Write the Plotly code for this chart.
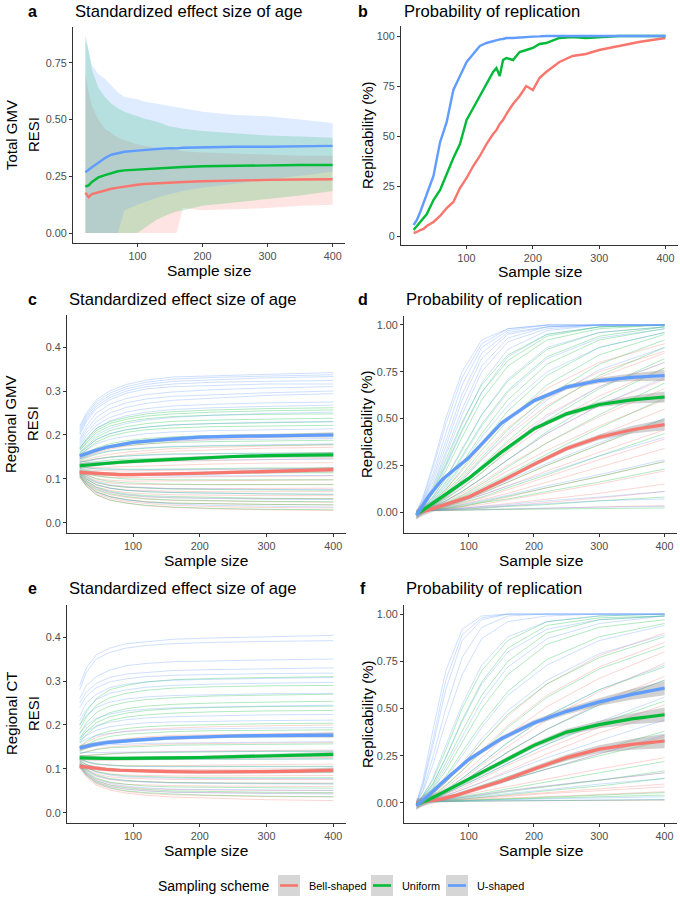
import plotly.graph_objects as go

# ---- colours (ggplot defaults) ----
RED = "#F8766D"
GREEN = "#00BA38"
BLUE = "#619CFF"

# ---- panel a: total GMV, mean RESI with bands ----
XA = [20, 25, 30, 40, 50, 60, 70, 80, 100, 110, 130, 150, 160, 170, 200, 250, 300, 350, 400]
A_BELL = [0.178, 0.158, 0.172, 0.18, 0.188, 0.195, 0.2, 0.205, 0.213, 0.216, 0.22, 0.223, 0.224, 0.225, 0.228, 0.232, 0.234, 0.236, 0.237]
A_UNIF = [0.205, 0.21, 0.225, 0.245, 0.255, 0.265, 0.272, 0.276, 0.28, 0.282, 0.285, 0.288, 0.29, 0.291, 0.294, 0.297, 0.298, 0.3, 0.3]
A_USHP = [0.268, 0.28, 0.29, 0.31, 0.33, 0.345, 0.35, 0.358, 0.363, 0.366, 0.37, 0.374, 0.373, 0.376, 0.378, 0.38, 0.38, 0.383, 0.384]
A_BELL_HI = [0.7, 0.62, 0.56, 0.5, 0.46, 0.44, 0.42, 0.41, 0.39, 0.385, 0.375, 0.37, 0.365, 0.36, 0.355, 0.35, 0.345, 0.34, 0.34]
A_BELL_LO = [0, 0, 0, 0, 0, 0, 0, 0, 0, 0, 0, 0, 0, 0.11, 0.1, 0.105, 0.11, 0.12, 0.125]
A_UNIF_HI = [0.86, 0.8, 0.72, 0.64, 0.6, 0.57, 0.55, 0.535, 0.515, 0.505, 0.49, 0.47, 0.465, 0.46, 0.45, 0.44, 0.43, 0.425, 0.42]
A_UNIF_LO = [0, 0, 0, 0, 0, 0, 0, 0, 0, 0.02, 0.06, 0.085, 0.095, 0.1, 0.12, 0.135, 0.15, 0.165, 0.185]
A_USHP_HI = [0.875, 0.8, 0.74, 0.7, 0.68, 0.65, 0.62, 0.6, 0.59, 0.58, 0.57, 0.56, 0.555, 0.55, 0.535, 0.52, 0.515, 0.5, 0.485]
A_USHP_LO = [0, 0, 0, 0, 0, 0, 0, 0.1, 0.125, 0.135, 0.155, 0.172, 0.18, 0.185, 0.2, 0.218, 0.235, 0.252, 0.27]

# ---- panel b: total GMV replicability (%) ----
XB = [20, 25, 30, 35, 40, 50, 60, 70, 80, 90, 100, 110, 120, 130, 140, 145, 150, 155, 160, 170, 180, 190, 200, 210, 220, 240, 260, 280, 300, 330, 360, 400]
B_BELL = [1.5, 2, 3, 3.5, 5, 7, 10, 14, 17, 24, 29, 35, 40, 46, 51, 53, 56, 58, 61, 66, 70, 75, 73, 79, 82, 87, 90, 91, 93, 95, 97, 99]
B_UNIF = [3, 5, 7, 9, 11, 18, 23, 31, 39, 46, 58, 64, 70, 76, 82, 84, 80, 88, 89, 88, 92, 93, 94, 96, 96.5, 99, 99.5, 99, 99.5, 100, 100, 100]
B_USHP = [5.5, 8, 12, 17, 21, 30, 47, 57, 73, 80, 87, 91, 95, 96.5, 97.5, 98, 98.3, 98.5, 99, 99, 99.3, 99.6, 99.7, 99.8, 100, 100, 100, 100, 100, 100, 100, 100]

# ---- regional panels: thin per-region lines ----
XT = [20, 30, 45, 65, 90, 120, 160, 220, 300, 400]

C_BELL = [
    [0.145, 0.15, 0.16, 0.168, 0.175, 0.18, 0.185, 0.19, 0.195, 0.2],
    [0.14, 0.143, 0.15, 0.156, 0.161, 0.165, 0.169, 0.172, 0.175, 0.178],
    [0.138, 0.14, 0.145, 0.15, 0.155, 0.159, 0.163, 0.166, 0.17, 0.172],
    [0.132, 0.131, 0.132, 0.134, 0.136, 0.138, 0.14, 0.142, 0.145, 0.147],
    [0.13, 0.127, 0.126, 0.127, 0.128, 0.13, 0.132, 0.134, 0.136, 0.137],
    [0.127, 0.122, 0.119, 0.118, 0.118, 0.119, 0.12, 0.122, 0.124, 0.125],
    [0.122, 0.113, 0.107, 0.104, 0.103, 0.103, 0.104, 0.105, 0.106, 0.107],
    [0.12, 0.109, 0.101, 0.097, 0.095, 0.095, 0.095, 0.096, 0.097, 0.098],
    [0.118, 0.106, 0.096, 0.091, 0.088, 0.087, 0.087, 0.087, 0.088, 0.088],
    [0.116, 0.102, 0.091, 0.085, 0.081, 0.079, 0.078, 0.078, 0.078, 0.079],
    [0.114, 0.099, 0.086, 0.079, 0.075, 0.073, 0.072, 0.071, 0.071, 0.071],
    [0.112, 0.096, 0.082, 0.074, 0.069, 0.066, 0.064, 0.063, 0.062, 0.062],
    [0.11, 0.093, 0.078, 0.069, 0.063, 0.059, 0.057, 0.056, 0.055, 0.055],
    [0.108, 0.09, 0.074, 0.064, 0.058, 0.054, 0.051, 0.049, 0.048, 0.047],
    [0.107, 0.088, 0.07, 0.06, 0.053, 0.048, 0.045, 0.043, 0.042, 0.041],
    [0.105, 0.085, 0.067, 0.056, 0.049, 0.044, 0.04, 0.037, 0.035, 0.034],
    [0.104, 0.083, 0.064, 0.052, 0.045, 0.039, 0.035, 0.032, 0.03, 0.028],
]
C_UNIF = [
    [0.17, 0.19, 0.215, 0.23, 0.24, 0.248, 0.253, 0.257, 0.26, 0.262],
    [0.168, 0.187, 0.21, 0.226, 0.236, 0.243, 0.248, 0.252, 0.255, 0.257],
    [0.165, 0.183, 0.205, 0.22, 0.23, 0.237, 0.242, 0.245, 0.247, 0.248],
    [0.16, 0.175, 0.195, 0.21, 0.219, 0.226, 0.231, 0.234, 0.236, 0.238],
    [0.158, 0.171, 0.19, 0.203, 0.212, 0.218, 0.223, 0.226, 0.228, 0.23],
    [0.155, 0.167, 0.184, 0.197, 0.206, 0.212, 0.216, 0.219, 0.221, 0.222],
    [0.15, 0.158, 0.17, 0.18, 0.187, 0.192, 0.196, 0.199, 0.201, 0.203],
    [0.146, 0.153, 0.163, 0.171, 0.176, 0.18, 0.183, 0.185, 0.187, 0.188],
    [0.142, 0.148, 0.156, 0.163, 0.167, 0.17, 0.173, 0.175, 0.177, 0.178],
    [0.138, 0.141, 0.146, 0.15, 0.153, 0.155, 0.157, 0.158, 0.159, 0.16],
    [0.135, 0.137, 0.14, 0.143, 0.145, 0.147, 0.148, 0.149, 0.15, 0.151],
    [0.128, 0.125, 0.123, 0.122, 0.122, 0.122, 0.123, 0.124, 0.125, 0.125],
    [0.125, 0.119, 0.115, 0.113, 0.112, 0.112, 0.112, 0.113, 0.114, 0.114],
    [0.122, 0.114, 0.107, 0.103, 0.1, 0.099, 0.098, 0.098, 0.098, 0.098],
    [0.119, 0.109, 0.1, 0.094, 0.091, 0.089, 0.088, 0.087, 0.087, 0.087],
    [0.117, 0.104, 0.092, 0.085, 0.081, 0.079, 0.077, 0.076, 0.075, 0.074],
    [0.114, 0.1, 0.087, 0.079, 0.074, 0.071, 0.069, 0.067, 0.066, 0.065],
    [0.112, 0.096, 0.081, 0.072, 0.066, 0.062, 0.06, 0.058, 0.056, 0.055],
    [0.11, 0.092, 0.076, 0.066, 0.06, 0.055, 0.052, 0.05, 0.049, 0.048],
    [0.108, 0.089, 0.071, 0.06, 0.053, 0.048, 0.045, 0.043, 0.042, 0.041],
    [0.105, 0.084, 0.064, 0.052, 0.045, 0.04, 0.036, 0.033, 0.031, 0.03],
]
C_USHP = [
    [0.22, 0.25, 0.28, 0.3, 0.315, 0.325, 0.332, 0.335, 0.338, 0.342],
    [0.215, 0.245, 0.275, 0.295, 0.31, 0.32, 0.327, 0.331, 0.334, 0.337],
    [0.21, 0.24, 0.27, 0.29, 0.305, 0.315, 0.322, 0.326, 0.33, 0.333],
    [0.205, 0.235, 0.265, 0.285, 0.3, 0.31, 0.316, 0.32, 0.322, 0.324],
    [0.2, 0.23, 0.26, 0.28, 0.295, 0.305, 0.31, 0.313, 0.316, 0.316],
    [0.19, 0.22, 0.25, 0.27, 0.283, 0.292, 0.298, 0.303, 0.307, 0.31],
    [0.185, 0.212, 0.24, 0.26, 0.273, 0.282, 0.288, 0.292, 0.296, 0.3],
    [0.18, 0.205, 0.23, 0.25, 0.263, 0.272, 0.279, 0.284, 0.29, 0.294],
    [0.175, 0.198, 0.222, 0.24, 0.252, 0.26, 0.266, 0.27, 0.273, 0.275],
    [0.17, 0.19, 0.215, 0.232, 0.244, 0.252, 0.258, 0.262, 0.265, 0.268],
    [0.165, 0.18, 0.2, 0.215, 0.226, 0.234, 0.24, 0.245, 0.249, 0.252],
    [0.16, 0.172, 0.19, 0.203, 0.212, 0.218, 0.223, 0.226, 0.229, 0.231],
    [0.155, 0.165, 0.18, 0.19, 0.197, 0.203, 0.207, 0.21, 0.212, 0.214],
    [0.15, 0.157, 0.167, 0.175, 0.18, 0.184, 0.187, 0.189, 0.191, 0.192],
    [0.145, 0.15, 0.158, 0.164, 0.168, 0.171, 0.174, 0.176, 0.178, 0.18],
    [0.14, 0.14, 0.145, 0.149, 0.152, 0.154, 0.156, 0.157, 0.158, 0.159],
    [0.135, 0.135, 0.137, 0.138, 0.14, 0.141, 0.142, 0.143, 0.144, 0.145],
    [0.13, 0.126, 0.123, 0.122, 0.121, 0.121, 0.121, 0.122, 0.123, 0.124],
    [0.125, 0.118, 0.113, 0.11, 0.108, 0.107, 0.107, 0.107, 0.108, 0.108],
    [0.118, 0.105, 0.094, 0.087, 0.083, 0.08, 0.078, 0.077, 0.076, 0.076],
    [0.115, 0.1, 0.087, 0.079, 0.074, 0.071, 0.069, 0.067, 0.066, 0.065],
    [0.112, 0.095, 0.08, 0.07, 0.064, 0.06, 0.057, 0.055, 0.054, 0.053],
    [0.108, 0.088, 0.07, 0.059, 0.052, 0.047, 0.043, 0.04, 0.038, 0.036],
]

D_BELL = [
    [0.0, 0.02, 0.05, 0.12, 0.22, 0.35, 0.5, 0.66, 0.8, 0.9],
    [0.0, 0.015, 0.045, 0.1, 0.19, 0.31, 0.45, 0.61, 0.75, 0.86],
    [0.0, 0.015, 0.04, 0.09, 0.17, 0.28, 0.41, 0.57, 0.72, 0.85],
    [0.0, 0.01, 0.035, 0.08, 0.15, 0.24, 0.37, 0.52, 0.67, 0.8],
    [0.0, 0.01, 0.03, 0.07, 0.13, 0.21, 0.32, 0.47, 0.62, 0.77],
    [0.0, 0.01, 0.025, 0.06, 0.11, 0.18, 0.28, 0.42, 0.57, 0.71],
    [0.0, 0.01, 0.025, 0.055, 0.1, 0.16, 0.25, 0.37, 0.51, 0.66],
    [0.0, 0.01, 0.02, 0.045, 0.085, 0.14, 0.22, 0.33, 0.46, 0.6],
    [0.0, 0.01, 0.02, 0.04, 0.075, 0.12, 0.19, 0.29, 0.41, 0.55],
    [0.0, 0.005, 0.015, 0.035, 0.065, 0.1, 0.16, 0.25, 0.36, 0.49],
    [0.0, 0.01, 0.015, 0.03, 0.055, 0.09, 0.14, 0.22, 0.32, 0.44],
    [0.0, 0.005, 0.012, 0.025, 0.045, 0.075, 0.12, 0.19, 0.28, 0.39],
    [0.0, 0.005, 0.01, 0.02, 0.04, 0.065, 0.1, 0.16, 0.24, 0.34],
    [0.0, 0.005, 0.01, 0.018, 0.03, 0.05, 0.08, 0.13, 0.19, 0.27],
    [0.0, 0.005, 0.01, 0.015, 0.025, 0.04, 0.065, 0.1, 0.15, 0.22],
    [0.0, 0.005, 0.008, 0.012, 0.02, 0.03, 0.045, 0.07, 0.1, 0.15],
    [0.0, 0.005, 0.008, 0.01, 0.015, 0.022, 0.033, 0.05, 0.075, 0.11],
    [0.0, 0.005, 0.006, 0.008, 0.01, 0.012, 0.015, 0.02, 0.027, 0.035],
]
D_UNIF = [
    [0.0, 0.04, 0.12, 0.28, 0.48, 0.68, 0.84, 0.95, 0.99, 1.0],
    [0.0, 0.035, 0.11, 0.25, 0.44, 0.64, 0.81, 0.94, 0.99, 1.0],
    [0.0, 0.03, 0.1, 0.22, 0.4, 0.6, 0.78, 0.92, 0.98, 1.0],
    [0.0, 0.03, 0.08, 0.18, 0.33, 0.52, 0.7, 0.87, 0.96, 0.99],
    [0.0, 0.025, 0.07, 0.16, 0.3, 0.47, 0.65, 0.83, 0.94, 0.99],
    [0.0, 0.02, 0.06, 0.14, 0.26, 0.42, 0.6, 0.79, 0.92, 0.98],
    [0.0, 0.02, 0.055, 0.12, 0.23, 0.37, 0.54, 0.73, 0.88, 0.96],
    [0.0, 0.02, 0.05, 0.11, 0.2, 0.33, 0.49, 0.68, 0.84, 0.95],
    [0.0, 0.015, 0.045, 0.1, 0.18, 0.29, 0.44, 0.62, 0.79, 0.92],
    [0.0, 0.02, 0.04, 0.08, 0.15, 0.25, 0.38, 0.56, 0.73, 0.88],
    [0.0, 0.015, 0.035, 0.07, 0.13, 0.21, 0.33, 0.49, 0.66, 0.82],
    [0.0, 0.01, 0.03, 0.06, 0.11, 0.18, 0.28, 0.43, 0.6, 0.77],
    [0.0, 0.01, 0.025, 0.05, 0.09, 0.15, 0.24, 0.37, 0.52, 0.69],
    [0.0, 0.01, 0.02, 0.045, 0.08, 0.13, 0.2, 0.31, 0.45, 0.61],
    [0.0, 0.01, 0.018, 0.035, 0.06, 0.1, 0.16, 0.25, 0.36, 0.5],
    [0.0, 0.01, 0.015, 0.03, 0.05, 0.08, 0.13, 0.2, 0.3, 0.42],
    [0.0, 0.005, 0.012, 0.02, 0.035, 0.055, 0.085, 0.13, 0.19, 0.27],
    [0.0, 0.01, 0.01, 0.02, 0.03, 0.05, 0.07, 0.11, 0.16, 0.23],
    [0.0, 0.005, 0.01, 0.012, 0.015, 0.02, 0.03, 0.04, 0.06, 0.08],
    [0.0, 0.005, 0.008, 0.01, 0.01, 0.012, 0.014, 0.017, 0.02, 0.022],
]
D_USHP = [
    [0.0, 0.08, 0.25, 0.5, 0.75, 0.92, 0.98, 1.0, 1.0, 1.0],
    [0.0, 0.07, 0.23, 0.47, 0.72, 0.9, 0.98, 1.0, 1.0, 1.0],
    [0.0, 0.06, 0.2, 0.42, 0.68, 0.88, 0.97, 1.0, 1.0, 1.0],
    [0.0, 0.055, 0.18, 0.38, 0.63, 0.85, 0.96, 0.99, 1.0, 1.0],
    [0.0, 0.05, 0.16, 0.35, 0.6, 0.82, 0.95, 0.99, 1.0, 1.0],
    [0.0, 0.045, 0.14, 0.32, 0.55, 0.78, 0.93, 0.99, 1.0, 1.0],
    [0.0, 0.04, 0.13, 0.3, 0.52, 0.75, 0.91, 0.98, 1.0, 1.0],
    [0.0, 0.035, 0.11, 0.26, 0.47, 0.69, 0.87, 0.97, 1.0, 1.0],
    [0.0, 0.03, 0.1, 0.24, 0.43, 0.64, 0.83, 0.95, 0.99, 1.0],
    [0.0, 0.03, 0.08, 0.18, 0.34, 0.52, 0.71, 0.88, 0.96, 0.99],
    [0.0, 0.025, 0.07, 0.15, 0.29, 0.46, 0.64, 0.82, 0.93, 0.98],
    [0.0, 0.02, 0.06, 0.13, 0.25, 0.4, 0.57, 0.75, 0.88, 0.96],
    [0.0, 0.02, 0.04, 0.09, 0.17, 0.28, 0.42, 0.6, 0.76, 0.88],
    [0.0, 0.015, 0.035, 0.075, 0.14, 0.23, 0.35, 0.51, 0.67, 0.8],
    [0.0, 0.01, 0.03, 0.06, 0.11, 0.18, 0.28, 0.42, 0.57, 0.72],
    [0.0, 0.01, 0.02, 0.04, 0.07, 0.11, 0.17, 0.26, 0.37, 0.5],
    [0.0, 0.01, 0.02, 0.035, 0.06, 0.09, 0.14, 0.21, 0.3, 0.4],
    [0.0, 0.01, 0.015, 0.025, 0.04, 0.06, 0.09, 0.14, 0.2, 0.28],
    [0.0, 0.01, 0.01, 0.015, 0.02, 0.03, 0.04, 0.06, 0.08, 0.11],
    [0.0, 0.005, 0.01, 0.015, 0.02, 0.025, 0.035, 0.045, 0.06, 0.07],
    [0.0, 0.005, 0.01, 0.01, 0.012, 0.015, 0.018, 0.022, 0.027, 0.03],
]

E_BELL = [
    [0.15, 0.16, 0.172, 0.18, 0.186, 0.19, 0.193, 0.196, 0.198, 0.2],
    [0.142, 0.148, 0.157, 0.164, 0.169, 0.173, 0.176, 0.178, 0.18, 0.182],
    [0.135, 0.139, 0.145, 0.15, 0.153, 0.155, 0.157, 0.158, 0.159, 0.16],
    [0.13, 0.13, 0.132, 0.135, 0.137, 0.139, 0.14, 0.141, 0.142, 0.143],
    [0.125, 0.122, 0.12, 0.12, 0.121, 0.122, 0.123, 0.124, 0.125, 0.126],
    [0.121, 0.115, 0.11, 0.108, 0.107, 0.107, 0.108, 0.109, 0.11, 0.111],
    [0.118, 0.109, 0.102, 0.099, 0.098, 0.098, 0.098, 0.099, 0.1, 0.1],
    [0.115, 0.104, 0.094, 0.089, 0.086, 0.085, 0.084, 0.084, 0.085, 0.085],
    [0.113, 0.099, 0.088, 0.082, 0.079, 0.077, 0.076, 0.076, 0.076, 0.076],
    [0.111, 0.096, 0.083, 0.076, 0.072, 0.07, 0.069, 0.068, 0.068, 0.068],
    [0.109, 0.092, 0.077, 0.069, 0.065, 0.063, 0.062, 0.061, 0.06, 0.06],
    [0.107, 0.089, 0.073, 0.064, 0.059, 0.055, 0.053, 0.052, 0.051, 0.051],
    [0.106, 0.087, 0.07, 0.06, 0.054, 0.05, 0.047, 0.046, 0.045, 0.045],
    [0.104, 0.084, 0.066, 0.056, 0.049, 0.044, 0.041, 0.039, 0.037, 0.036],
    [0.103, 0.082, 0.063, 0.052, 0.045, 0.04, 0.036, 0.033, 0.03, 0.028],
]
E_UNIF = [
    [0.2, 0.23, 0.26, 0.28, 0.29, 0.298, 0.303, 0.306, 0.308, 0.31],
    [0.19, 0.218, 0.245, 0.262, 0.272, 0.279, 0.284, 0.287, 0.289, 0.29],
    [0.18, 0.205, 0.228, 0.243, 0.252, 0.258, 0.262, 0.266, 0.268, 0.27],
    [0.17, 0.192, 0.213, 0.228, 0.237, 0.243, 0.247, 0.25, 0.252, 0.254],
    [0.165, 0.185, 0.205, 0.219, 0.227, 0.233, 0.237, 0.24, 0.242, 0.243],
    [0.16, 0.178, 0.197, 0.21, 0.218, 0.223, 0.227, 0.23, 0.232, 0.233],
    [0.15, 0.163, 0.177, 0.186, 0.192, 0.196, 0.199, 0.201, 0.203, 0.204],
    [0.145, 0.155, 0.166, 0.174, 0.179, 0.182, 0.185, 0.187, 0.188, 0.189],
    [0.14, 0.147, 0.155, 0.161, 0.165, 0.168, 0.17, 0.172, 0.173, 0.174],
    [0.135, 0.139, 0.144, 0.148, 0.15, 0.152, 0.154, 0.155, 0.156, 0.157],
    [0.13, 0.131, 0.133, 0.135, 0.136, 0.137, 0.138, 0.139, 0.14, 0.14],
    [0.126, 0.124, 0.122, 0.121, 0.121, 0.121, 0.121, 0.122, 0.122, 0.123],
    [0.122, 0.117, 0.112, 0.109, 0.107, 0.106, 0.106, 0.106, 0.106, 0.106],
    [0.118, 0.11, 0.103, 0.098, 0.096, 0.094, 0.093, 0.093, 0.093, 0.093],
    [0.115, 0.104, 0.094, 0.088, 0.084, 0.082, 0.081, 0.08, 0.08, 0.08],
    [0.112, 0.099, 0.086, 0.078, 0.074, 0.071, 0.069, 0.068, 0.067, 0.066],
    [0.11, 0.094, 0.079, 0.07, 0.065, 0.061, 0.059, 0.058, 0.057, 0.056],
    [0.108, 0.09, 0.073, 0.063, 0.057, 0.053, 0.05, 0.048, 0.047, 0.046],
    [0.106, 0.086, 0.068, 0.057, 0.05, 0.046, 0.043, 0.04, 0.038, 0.037],
]
E_USHP = [
    [0.29, 0.33, 0.36, 0.375, 0.385, 0.39, 0.395, 0.398, 0.4, 0.404],
    [0.28, 0.32, 0.35, 0.365, 0.375, 0.381, 0.385, 0.388, 0.39, 0.392],
    [0.26, 0.29, 0.31, 0.325, 0.335, 0.34, 0.344, 0.346, 0.348, 0.35],
    [0.25, 0.275, 0.295, 0.308, 0.316, 0.32, 0.324, 0.326, 0.328, 0.33],
    [0.24, 0.265, 0.285, 0.298, 0.305, 0.31, 0.313, 0.315, 0.317, 0.318],
    [0.22, 0.25, 0.27, 0.285, 0.293, 0.298, 0.302, 0.304, 0.306, 0.308],
    [0.21, 0.235, 0.258, 0.272, 0.28, 0.286, 0.29, 0.293, 0.295, 0.297],
    [0.2, 0.222, 0.24, 0.252, 0.259, 0.264, 0.267, 0.269, 0.271, 0.272],
    [0.18, 0.2, 0.215, 0.225, 0.232, 0.236, 0.239, 0.241, 0.243, 0.245],
    [0.17, 0.185, 0.198, 0.206, 0.212, 0.216, 0.219, 0.221, 0.223, 0.224],
    [0.165, 0.176, 0.188, 0.196, 0.201, 0.205, 0.207, 0.209, 0.21, 0.211],
    [0.16, 0.168, 0.176, 0.181, 0.185, 0.188, 0.19, 0.192, 0.193, 0.194],
    [0.15, 0.155, 0.161, 0.165, 0.168, 0.17, 0.171, 0.172, 0.173, 0.174],
    [0.145, 0.148, 0.152, 0.155, 0.157, 0.158, 0.159, 0.16, 0.161, 0.162],
    [0.138, 0.137, 0.137, 0.138, 0.138, 0.139, 0.139, 0.14, 0.14, 0.141],
    [0.13, 0.126, 0.124, 0.123, 0.122, 0.122, 0.122, 0.122, 0.123, 0.123],
    [0.125, 0.117, 0.111, 0.108, 0.106, 0.105, 0.105, 0.105, 0.105, 0.105],
    [0.12, 0.11, 0.102, 0.098, 0.096, 0.095, 0.094, 0.094, 0.094, 0.094],
    [0.116, 0.103, 0.092, 0.086, 0.082, 0.08, 0.079, 0.078, 0.078, 0.078],
    [0.112, 0.097, 0.084, 0.077, 0.073, 0.07, 0.068, 0.067, 0.066, 0.066],
    [0.109, 0.091, 0.076, 0.067, 0.061, 0.057, 0.054, 0.053, 0.052, 0.051],
    [0.106, 0.087, 0.07, 0.06, 0.054, 0.05, 0.047, 0.045, 0.044, 0.043],
]

F_BELL = [
    [0.0, 0.02, 0.05, 0.11, 0.2, 0.32, 0.46, 0.63, 0.78, 0.9],
    [0.0, 0.015, 0.045, 0.095, 0.17, 0.28, 0.41, 0.57, 0.72, 0.85],
    [0.0, 0.015, 0.04, 0.08, 0.15, 0.24, 0.36, 0.51, 0.66, 0.8],
    [0.0, 0.01, 0.03, 0.065, 0.12, 0.2, 0.3, 0.44, 0.59, 0.74],
    [0.0, 0.01, 0.03, 0.06, 0.11, 0.18, 0.27, 0.39, 0.53, 0.67],
    [0.0, 0.01, 0.02, 0.045, 0.08, 0.13, 0.2, 0.29, 0.4, 0.52],
    [0.0, 0.01, 0.02, 0.04, 0.07, 0.11, 0.17, 0.26, 0.37, 0.48],
    [0.0, 0.01, 0.015, 0.03, 0.05, 0.08, 0.12, 0.18, 0.26, 0.35],
    [0.0, 0.005, 0.012, 0.025, 0.04, 0.06, 0.09, 0.13, 0.18, 0.24],
    [0.0, 0.005, 0.01, 0.02, 0.03, 0.045, 0.065, 0.09, 0.12, 0.16],
    [0.0, 0.005, 0.01, 0.015, 0.02, 0.03, 0.04, 0.055, 0.075, 0.1],
    [0.0, 0.005, 0.008, 0.012, 0.018, 0.025, 0.035, 0.05, 0.065, 0.085],
    [0.0, 0.005, 0.008, 0.01, 0.015, 0.02, 0.025, 0.035, 0.045, 0.06],
    [0.0, 0.005, 0.006, 0.008, 0.009, 0.01, 0.011, 0.012, 0.014, 0.015],
]
F_UNIF = [
    [0.0, 0.04, 0.12, 0.28, 0.5, 0.7, 0.86, 0.96, 0.99, 1.0],
    [0.0, 0.035, 0.1, 0.24, 0.44, 0.64, 0.82, 0.94, 0.98, 0.99],
    [0.0, 0.03, 0.09, 0.21, 0.38, 0.57, 0.75, 0.9, 0.97, 0.99],
    [0.0, 0.025, 0.075, 0.17, 0.32, 0.5, 0.68, 0.84, 0.93, 0.97],
    [0.0, 0.02, 0.06, 0.14, 0.27, 0.42, 0.59, 0.76, 0.88, 0.95],
    [0.0, 0.02, 0.05, 0.11, 0.2, 0.32, 0.47, 0.63, 0.77, 0.88],
    [0.0, 0.015, 0.04, 0.09, 0.17, 0.27, 0.4, 0.56, 0.71, 0.83],
    [0.0, 0.01, 0.03, 0.07, 0.13, 0.21, 0.32, 0.46, 0.6, 0.72],
    [0.0, 0.01, 0.025, 0.06, 0.11, 0.18, 0.27, 0.39, 0.52, 0.65],
    [0.0, 0.01, 0.02, 0.05, 0.09, 0.14, 0.21, 0.31, 0.42, 0.54],
    [0.0, 0.01, 0.015, 0.03, 0.055, 0.09, 0.14, 0.2, 0.28, 0.38],
    [0.0, 0.01, 0.015, 0.03, 0.05, 0.08, 0.12, 0.18, 0.25, 0.33],
    [0.0, 0.005, 0.01, 0.02, 0.035, 0.05, 0.075, 0.11, 0.16, 0.22],
    [0.0, 0.005, 0.01, 0.018, 0.028, 0.04, 0.06, 0.085, 0.12, 0.17],
    [0.0, 0.005, 0.01, 0.015, 0.02, 0.03, 0.045, 0.065, 0.09, 0.13],
    [0.0, 0.005, 0.008, 0.01, 0.013, 0.017, 0.022, 0.03, 0.04, 0.055],
    [0.0, 0.005, 0.007, 0.01, 0.012, 0.015, 0.02, 0.026, 0.033, 0.042],
    [0.0, 0.005, 0.006, 0.008, 0.009, 0.01, 0.011, 0.013, 0.015, 0.017],
]
F_USHP = [
    [0.0, 0.12, 0.38, 0.7, 0.92, 0.99, 1.0, 1.0, 1.0, 1.0],
    [0.0, 0.1, 0.33, 0.65, 0.89, 0.98, 1.0, 1.0, 1.0, 1.0],
    [0.0, 0.09, 0.3, 0.6, 0.86, 0.97, 1.0, 1.0, 1.0, 1.0],
    [0.0, 0.07, 0.24, 0.5, 0.77, 0.93, 0.99, 1.0, 1.0, 1.0],
    [0.0, 0.06, 0.2, 0.43, 0.68, 0.87, 0.96, 0.99, 1.0, 1.0],
    [0.0, 0.04, 0.13, 0.3, 0.52, 0.73, 0.88, 0.96, 0.99, 1.0],
    [0.0, 0.035, 0.1, 0.24, 0.43, 0.63, 0.8, 0.92, 0.97, 0.99],
    [0.0, 0.03, 0.08, 0.19, 0.35, 0.54, 0.72, 0.87, 0.95, 0.99],
    [0.0, 0.02, 0.06, 0.13, 0.25, 0.4, 0.57, 0.73, 0.86, 0.94],
    [0.0, 0.02, 0.05, 0.11, 0.21, 0.34, 0.49, 0.65, 0.79, 0.89],
    [0.0, 0.015, 0.035, 0.07, 0.13, 0.21, 0.32, 0.46, 0.6, 0.73],
    [0.0, 0.01, 0.03, 0.06, 0.11, 0.18, 0.27, 0.39, 0.52, 0.65],
    [0.0, 0.01, 0.025, 0.05, 0.09, 0.14, 0.21, 0.31, 0.43, 0.56],
    [0.0, 0.01, 0.02, 0.04, 0.07, 0.11, 0.16, 0.24, 0.33, 0.44],
    [0.0, 0.01, 0.015, 0.03, 0.05, 0.08, 0.12, 0.18, 0.26, 0.36],
    [0.0, 0.005, 0.01, 0.02, 0.03, 0.045, 0.065, 0.09, 0.12, 0.16],
    [0.0, 0.005, 0.01, 0.015, 0.025, 0.035, 0.05, 0.07, 0.1, 0.13],
    [0.0, 0.005, 0.008, 0.01, 0.012, 0.015, 0.018, 0.022, 0.027, 0.033],
    [0.0, 0.005, 0.006, 0.008, 0.01, 0.011, 0.012, 0.014, 0.016, 0.018],
]

# ---- regional panels: smoothed means and their SE half-widths ----
XS = [20, 40, 60, 80, 100, 150, 200, 250, 300, 350, 400]
CS_BELL = [0.115, 0.113, 0.111, 0.11, 0.11, 0.111, 0.113, 0.115, 0.117, 0.119, 0.121]
CS_UNIF = [0.13, 0.133, 0.136, 0.138, 0.14, 0.144, 0.148, 0.151, 0.153, 0.154, 0.155]
CS_USHP = [0.152, 0.163, 0.172, 0.178, 0.183, 0.19, 0.195, 0.197, 0.198, 0.199, 0.2]
CS_SE = [0.006, 0.005, 0.004, 0.004, 0.004, 0.004, 0.004, 0.004, 0.004, 0.005, 0.006]
DS_BELL = [-0.01, 0.012, 0.035, 0.055, 0.08, 0.165, 0.255, 0.34, 0.4, 0.44, 0.467]
DS_UNIF = [-0.014, 0.035, 0.08, 0.13, 0.18, 0.32, 0.445, 0.525, 0.575, 0.6, 0.615]
DS_USHP = [-0.018, 0.09, 0.175, 0.235, 0.29, 0.475, 0.595, 0.668, 0.703, 0.72, 0.73]
DS_SE = [0.025, 0.017, 0.013, 0.012, 0.012, 0.012, 0.012, 0.013, 0.015, 0.02, 0.03]
ES_BELL = [0.106, 0.102, 0.099, 0.097, 0.096, 0.094, 0.093, 0.093, 0.094, 0.095, 0.097]
ES_UNIF = [0.125, 0.124, 0.124, 0.124, 0.124, 0.125, 0.126, 0.128, 0.13, 0.132, 0.133]
ES_USHP = [0.148, 0.155, 0.16, 0.163, 0.165, 0.17, 0.173, 0.175, 0.176, 0.177, 0.177]
ES_SE = [0.006, 0.005, 0.004, 0.004, 0.004, 0.004, 0.004, 0.004, 0.004, 0.005, 0.006]
FS_BELL = [0.0, 0.01, 0.022, 0.04, 0.062, 0.115, 0.18, 0.24, 0.285, 0.31, 0.328]
FS_UNIF = [-0.01, 0.02, 0.055, 0.09, 0.123, 0.215, 0.305, 0.375, 0.415, 0.445, 0.467]
FS_USHP = [-0.014, 0.045, 0.11, 0.17, 0.23, 0.34, 0.425, 0.485, 0.535, 0.575, 0.608]
FS_SE = [0.025, 0.017, 0.013, 0.012, 0.012, 0.013, 0.014, 0.016, 0.02, 0.028, 0.038]

SCHEMES = ["Bell-shaped", "Uniform", "U-shaped"]
COLORS = [RED, GREEN, BLUE]

W, H = 680, 900
FONT = "Liberation Sans, Arial, sans-serif"


def rgba(hex_col, a):
    h = hex_col.lstrip("#")
    return "rgba(%d,%d,%d,%s)" % (int(h[0:2], 16), int(h[2:4], 16), int(h[4:6], 16), a)


fig = go.Figure()


def band(x, lo, hi, fill, ax):
    fig.add_trace(go.Scatter(
        x=list(x) + list(x)[::-1], y=list(hi) + list(lo)[::-1],
        fill="toself", fillcolor=fill,
        line=dict(width=0), hoverinfo="skip", showlegend=False,
        xaxis="x" + ax, yaxis="y" + ax))


def line(x, y, color, width, ax):
    fig.add_trace(go.Scatter(
        x=x, y=y, mode="lines", line=dict(color=color, width=width),
        showlegend=False, hoverinfo="skip", xaxis="x" + ax, yaxis="y" + ax))


def thin_lines(rows, color, ax):
    xs, ys = [], []
    for r in rows:
        xs += XT + [None]
        ys += r + [None]
    fig.add_trace(go.Scatter(
        x=xs, y=ys, mode="lines", line=dict(color=rgba(color, 0.35), width=0.9),
        showlegend=False, hoverinfo="skip", xaxis="x" + ax, yaxis="y" + ax))


# panel a
band(XA, A_BELL_LO, A_BELL_HI, rgba(RED, 0.2), "")
band(XA, A_UNIF_LO, A_UNIF_HI, rgba(GREEN, 0.2), "")
band(XA, A_USHP_LO, A_USHP_HI, rgba(BLUE, 0.2), "")
for ys, c in zip([A_BELL, A_UNIF, A_USHP], COLORS):
    line(XA, ys, c, 2.4, "")

# panel b
for ys, c in zip([B_BELL, B_UNIF, B_USHP], COLORS):
    line(XB, ys, c, 2.4, "2")

# regional panels
regional = [
    ("3", [C_BELL, C_UNIF, C_USHP], [CS_BELL, CS_UNIF, CS_USHP], CS_SE),
    ("4", [D_BELL, D_UNIF, D_USHP], [DS_BELL, DS_UNIF, DS_USHP], DS_SE),
    ("5", [E_BELL, E_UNIF, E_USHP], [ES_BELL, ES_UNIF, ES_USHP], ES_SE),
    ("6", [F_BELL, F_UNIF, F_USHP], [FS_BELL, FS_UNIF, FS_USHP], FS_SE),
]
for ax, thin, smooth, se in regional:
    for rows, c in zip(thin, COLORS):
        thin_lines(rows, c, ax)
    for ys, c in zip(smooth, COLORS):
        lo = [v - s for v, s in zip(ys, se)]
        hi = [v + s for v, s in zip(ys, se)]
        band(XS, lo, hi, "rgba(153,153,153,0.45)", ax)
        line(XS, ys, c, 3.2, ax)

# ---- axes ----
panels = [
    # key, x px, y px, y range, y ticks, y tick text
    ("", (73, 345), (27, 243), [-0.044, 0.908], [0, 0.25, 0.5, 0.75], ["0.00", "0.25", "0.50", "0.75"]),
    ("2", (401, 678), (26, 245), [-4.5, 105], [0, 25, 50, 75, 100], ["0", "25", "50", "75", "100"]),
    ("3", (67, 346), (315, 533), [-0.023, 0.473], [0, 0.1, 0.2, 0.3, 0.4], ["0.0", "0.1", "0.2", "0.3", "0.4"]),
    ("4", (404, 677), (316, 533), [-0.112, 1.048], [0, 0.25, 0.5, 0.75, 1], ["0.00", "0.25", "0.50", "0.75", "1.00"]),
    ("5", (67, 346), (605, 823), [-0.023, 0.473], [0, 0.1, 0.2, 0.3, 0.4], ["0.0", "0.1", "0.2", "0.3", "0.4"]),
    ("6", (404, 677), (605, 823), [-0.106, 1.048], [0, 0.25, 0.5, 0.75, 1], ["0.00", "0.25", "0.50", "0.75", "1.00"]),
]
axis_style = dict(showline=True, linecolor="#333333", linewidth=1.1, ticks="outside",
                  ticklen=3, tickwidth=1, tickcolor="#333333", showgrid=False, zeroline=False,
                  tickfont=dict(size=10.8, color="#4d4d4d", family=FONT))
layout_axes = {}
for key, (x0, x1), (y0, y1), yr, yt, ytt in panels:
    layout_axes["xaxis" + key] = dict(domain=[x0 / W, x1 / W], range=[1, 419],
                                     tickvals=[100, 200, 300, 400], anchor="y" + key, **axis_style)
    layout_axes["yaxis" + key] = dict(domain=[1 - y1 / H, 1 - y0 / H], range=yr,
                                     tickvals=yt, ticktext=ytt, anchor="x" + key, **axis_style)


def ann(text, x, y, size, xanchor="center", angle=0, bold=False, color="#000000"):
    return dict(text="<b>%s</b>" % text if bold else text, x=x / W, y=1 - y / H,
                xref="paper", yref="paper", showarrow=False, xanchor=xanchor, yanchor="middle",
                textangle=angle, font=dict(size=size, family=FONT, color=color))


annotations = []
titles = [
    ("a", 32, 73, 11, "Standardized effect size of age"),
    ("b", 363, 402, 11, "Probability of replication"),
    ("c", 32, 67, 299, "Standardized effect size of age"),
    ("d", 363, 404, 299, "Probability of replication"),
    ("e", 32, 67, 588, "Standardized effect size of age"),
    ("f", 363, 404, 588, "Probability of replication"),
]
for letter, lx, tx, ty, text in titles:
    annotations.append(ann(letter, lx, ty, 16, bold=True))
    annotations.append(ann(text, tx, ty, 16.6, xanchor="left"))

for key, (x0, x1), (y0, y1), yr, yt, ytt in panels:
    annotations.append(ann("Sample size", (x0 + x1) / 2, y1 + 27, 15.5))

row_labels = [("Total GMV", 135), ("Regional GMV", 424), ("Regional CT", 714)]
for text, cy in row_labels:
    annotations.append(ann(text, 11, cy, 15, angle=-90))
    annotations.append(ann("RESI", 33, cy, 15, angle=-90))
for cy in [135, 424, 714]:
    annotations.append(ann("Replicability (%)", 367, cy, 15, angle=-90))

# legend drawn by hand to get ggplot-style grey key boxes
shapes = []
annotations.append(ann("Sampling scheme", 271, 886, 14, xanchor="right"))
keys = [(278, 307), (371, 400), (446, 475)]
for (kx, tx), name, c in zip(keys, SCHEMES, COLORS):
    shapes.append(dict(type="rect", xref="paper", yref="paper", x0=kx / W, x1=(kx + 22) / W,
                       y0=1 - 896 / H, y1=1 - 875 / H, fillcolor="#d6d6d6", line=dict(width=0)))
    shapes.append(dict(type="line", xref="paper", yref="paper", x0=(kx + 2) / W, x1=(kx + 20) / W,
                       y0=1 - 885.5 / H, y1=1 - 885.5 / H, line=dict(color=c, width=2.6)))
    annotations.append(ann(name, tx, 886, 10.9, xanchor="left"))

fig.update_layout(width=W, height=H, margin=dict(l=0, r=0, t=0, b=0),
                  paper_bgcolor="white", plot_bgcolor="white", showlegend=False,
                  annotations=annotations, shapes=shapes, **layout_axes)

# drop the page's default body margin so the 680x900 figure sits flush in the window
fig.write_html("out.html", config={"displayModeBar": False},
               post_script="document.body.style.margin='0';")
